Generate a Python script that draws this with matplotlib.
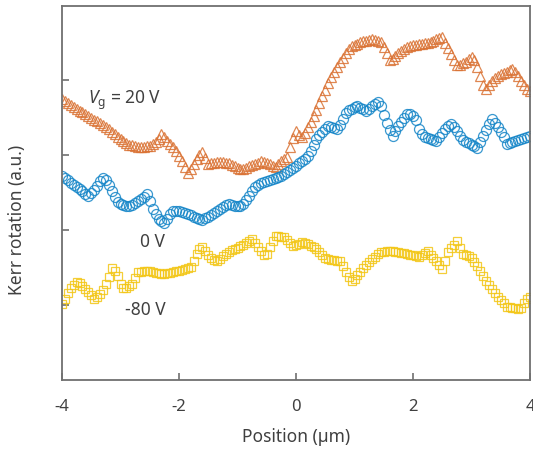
import numpy as np
import matplotlib
matplotlib.use('Agg')
import matplotlib.pyplot as plt

plt.rcParams['font.family'] = ['Noto Sans', 'DejaVu Sans']
plt.rcParams['mathtext.fontset'] = 'custom'
plt.rcParams['mathtext.it'] = 'Noto Sans:italic'
plt.rcParams['mathtext.rm'] = 'Noto Sans'

# position grid (um), 0.05 um step
position = np.linspace(-4, 4, 161)

# Kerr rotation (a.u.), Vg = 20 V
kerr_20v = [281, 279, 277, 275, 273, 271, 269, 268, 266, 264,
            262, 260, 259, 257, 255, 253, 251, 248, 246, 243,
            241, 239, 237, 235, 235, 234, 233, 233, 233, 234,
            234, 236, 238, 241, 246, 243, 239, 236, 233, 229,
            224, 219, 213, 207, 211, 216, 221, 225, 228, 222,
            216, 217, 217, 218, 218, 218, 217, 217, 215, 214,
            212, 211, 211, 212, 214, 215, 216, 217, 219, 218,
            217, 216, 214, 213, 216, 219, 221, 223, 233, 242,
            249, 245, 243, 247, 253, 258, 264, 270, 277, 284,
            290, 297, 303, 308, 313, 318, 322, 327, 331, 334,
            335, 336, 338, 339, 339, 340, 341, 340, 339, 338,
            333, 327, 320, 321, 324, 327, 329, 331, 333, 334,
            335, 335, 336, 336, 337, 337, 338, 339, 341, 342,
            343, 337, 332, 326, 320, 315, 315, 317, 318, 321,
            323, 320, 313, 304, 295, 291, 295, 299, 302, 304,
            306, 307, 308, 310, 311, 308, 304, 299, 295, 291,
            289]

# Vg = 0 V
kerr_0v = [204, 202, 200, 197, 195, 193, 191, 189, 186, 184,
           187, 190, 194, 199, 202, 200, 195, 189, 183, 178,
           176, 175, 174, 174, 175, 177, 179, 181, 183, 186,
           179, 171, 166, 161, 159, 157, 161, 166, 169, 169,
           169, 168, 167, 166, 165, 163, 162, 161, 160, 162,
           163, 165, 167, 169, 171, 173, 175, 176, 175, 174,
           174, 174, 176, 180, 184, 189, 193, 195, 197, 198,
           199, 200, 201, 202, 203, 204, 206, 208, 210, 212,
           214, 217, 219, 221, 224, 229, 235, 241, 245, 248,
           251, 254, 253, 252, 251, 255, 261, 267, 270, 271,
           273, 274, 272, 271, 269, 271, 274, 276, 278, 274,
           265, 257, 250, 244, 249, 254, 258, 262, 266, 266,
           264, 260, 251, 246, 243, 242, 241, 240, 239, 243,
           247, 251, 254, 256, 253, 249, 244, 240, 238, 237,
           235, 234, 232, 238, 244, 250, 256, 261, 257, 253,
           248, 243, 236, 237, 238, 239, 240, 241, 242, 243,
           244]

# Vg = -80 V
kerr_m80v = [76, 81, 87, 92, 95, 98, 97, 94, 91, 88,
             85, 81, 83, 86, 90, 96, 103, 112, 109, 104,
             96, 92, 92, 94, 96, 102, 108, 108, 109, 109,
             109, 108, 107, 107, 106, 106, 107, 107, 108, 109,
             109, 110, 111, 112, 113, 119, 126, 131, 133, 129,
             125, 122, 120, 119, 121, 124, 126, 128, 130, 131,
             132, 134, 135, 137, 139, 141, 137, 133, 129, 125,
             126, 133, 139, 144, 144, 143, 143, 140, 137, 134,
             135, 136, 138, 137, 136, 134, 133, 131, 128, 125,
             122, 121, 120, 120, 119, 119, 114, 108, 103, 99,
             101, 105, 108, 112, 115, 118, 121, 123, 126, 128,
             128, 129, 129, 129, 128, 128, 127, 127, 126, 125,
             125, 124, 123, 125, 127, 129, 125, 122, 119, 115,
             111, 119, 128, 132, 135, 139, 132, 126, 125, 124,
             122, 118, 114, 109, 104, 99, 95, 91, 87, 83,
             80, 77, 73, 73, 72, 72, 71, 72, 77, 81,
             83]

fig = plt.figure(figsize=(5.33, 4.52), dpi=100)
ax = fig.add_axes([62/533, 1 - 381/452, 468/533, 374/452])

ax.plot(position, kerr_m80v, 's', ms=6.3, mfc='none', mec='#F3C615', mew=0.9, alpha=0.85)
ax.plot(position, kerr_20v, '^', ms=7.5, mfc='none', mec='#DA7234', mew=0.9, alpha=0.85)
ax.plot(position, kerr_0v, 'o', ms=7.2, mfc='none', mec='#1686C8', mew=0.9, alpha=0.85)

txt = '#404040'
ax.text(-3.56, 281, r'$V_{\mathrm{g}}$ = 20 V', fontsize=12.5, color=txt, va='center')
ax.text(-2.67, 139, '0 V', fontsize=12.5, color=txt, va='center')
ax.text(-2.92, 71, '-80 V', fontsize=12.5, color=txt, va='center')

ax.set_xlim(-4, 4)
ax.set_ylim(0, 374)
ax.set_xticks([-4, -2, 0, 2, 4])
ax.set_xticklabels(['-4', '-2', '0', '2', '4'])
ax.set_yticks([75, 150, 225, 300])
ax.set_yticklabels([])
ax.tick_params(direction='in', length=5, width=1.2, color='#707070',
               labelsize=12, labelcolor=txt, pad=13)
for s in ax.spines.values():
    s.set_color('#707070')
    s.set_linewidth(1.3)

ax.set_xlabel('Position (µm)', fontsize=12.5, color=txt, labelpad=9)
ax.set_ylabel('Kerr rotation (a.u.)', fontsize=12.5, color=txt)
ax.yaxis.set_label_coords(-0.076, 0.43)

fig.savefig('out.png', dpi=100)
